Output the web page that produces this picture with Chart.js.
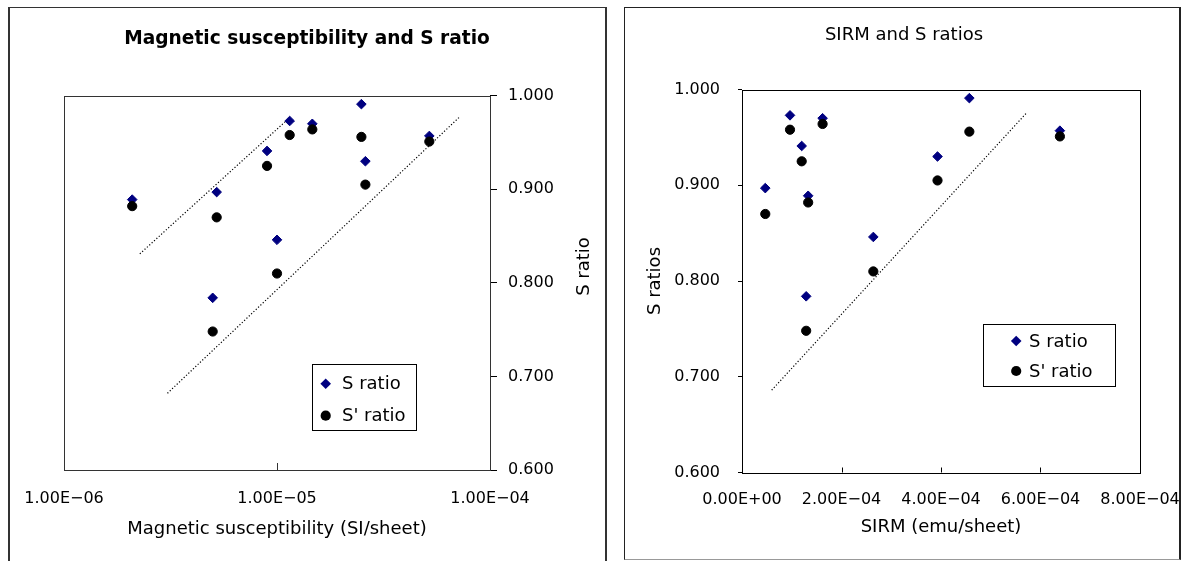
<!DOCTYPE html>
<html>
<head>
<meta charset="utf-8">
<script src="https://cdn.jsdelivr.net/npm/chart.js@4.4.1/dist/chart.umd.min.js"></script>
<style>
  html, body { margin: 0; padding: 0; background: #fff; }
  body { width: 1186px; height: 561px; position: relative; overflow: hidden; }
  .panel { position: absolute; box-sizing: border-box; border: 1px solid #333; }
  #panelLeft { left: 8px; top: 7px; width: 599px; height: 600px; border-width: 1px 2px 0 2px; }
  #panelRight { left: 624px; top: 7px; width: 557px; height: 553px; border-color: #222; border-width: 1px 2px 1px 1px; border-bottom-color: #999; }
  canvas { position: absolute; }
  #suscChart { left: 10px; top: 9px; }
  #sirmChart { left: 626px; top: 9px; }
</style>
</head>
<body>
<div class="panel" id="panelLeft"></div>
<div class="panel" id="panelRight"></div>
<canvas id="suscChart" width="594" height="552"></canvas>
<canvas id="sirmChart" width="556" height="549"></canvas>
<script>
// one entry per sample, same order in every array
const susceptibility = [2.09e-6, 5.21e-6, 8.98e-6, 1.147e-5, 1.465e-5, 2.49e-5, 2.60e-5, 5.19e-5, 1.0e-5, 4.99e-6]
const sirm = [1.33e-4, 4.68e-5, 1.20e-4, 9.65e-5, 1.62e-4, 4.57e-4, 3.93e-4, 6.39e-4, 2.64e-4, 1.29e-4]
const sRatio = [0.889, 0.897, 0.941, 0.973, 0.970, 0.991, 0.930, 0.957, 0.846, 0.784]
const sPrimeRatio = [0.882, 0.870, 0.925, 0.958, 0.964, 0.956, 0.905, 0.951, 0.810, 0.748]

// axis ticks
const suscTicks = [1e-6, 1e-5, 1e-4]
const sirmTicks = [0, 2e-4, 4e-4, 6e-4, 8e-4]
const ratioTicks = [0.6, 0.7, 0.8, 0.9, 1.0]

// dotted guide lines, [x, y] end points
const suscGuideUpper = [[2.27e-6, 0.831], [1.09e-5, 0.972]]
const suscGuideLower = [[3.06e-6, 0.682], [7.25e-5, 0.978]]
const sirmGuide = [[5.97e-5, 0.686], [5.71e-4, 0.975]]

Chart.defaults.font.family = "'DejaVu Sans', sans-serif"
Chart.defaults.color = '#000'

// 1.00E-05 style labels
function sci(v) {
  const [m, e] = Number(v).toExponential(2).split('e')
  const n = parseInt(e, 10)
  return m + 'E' + (n < 0 ? '\u2212' : '+') + String(Math.abs(n)).padStart(2, '0')
}

function pts(xs, ys) {
  return xs.map((x, i) => ({ x: x, y: ys[i] }))
}

function guide(pairs) {
  return {
    data: pairs.map(p => ({ x: p[0], y: p[1] })),
    showLine: true,
    pointRadius: 0,
    borderColor: '#000',
    borderWidth: 1.2,
    borderDash: [1.2, 2],
    xAxisID: 'x',
    yAxisID: 'y',
    order: 3
  }
}

function markers(xs) {
  return [
    {
      label: 'S ratio',
      data: pts(xs, sRatio),
      pointStyle: 'rectRot',
      pointRadius: 4.8,
      backgroundColor: '#000080',
      borderColor: '#000080',
      borderWidth: 1,
      xAxisID: 'x',
      yAxisID: 'y',
      order: 2
    },
    {
      label: "S' ratio",
      data: pts(xs, sPrimeRatio),
      pointStyle: 'circle',
      pointRadius: 4.6,
      backgroundColor: '#000',
      borderColor: '#000',
      borderWidth: 1,
      xAxisID: 'x',
      yAxisID: 'y',
      order: 1
    }
  ]
}

// empty axis used only to reserve room beside the plot
function gutter(side, w) {
  return {
    position: side,
    display: true,
    grid: { display: false, drawTicks: false },
    border: { display: false },
    ticks: { display: false },
    afterFit: s => { s.width = w }
  }
}

// plot frame + short tick marks pointing into the plot on x
const frame = {
  id: 'frame',
  beforeDatasetsDraw(chart, args, o) {
    const { ctx, chartArea: a } = chart
    ctx.save()
    ctx.strokeStyle = o.color || '#000'
    ctx.lineWidth = 1
    ctx.strokeRect(Math.round(a.left) + 0.5, Math.round(a.top) + 0.5,
      Math.round(a.right - a.left), Math.round(a.bottom - a.top))
    const xs = chart.scales.x
    ctx.beginPath()
    xs.ticks.forEach(t => {
      const px = Math.round(xs.getPixelForValue(t.value)) + 0.5
      if (px < a.left + 2 || px > a.right - 2) return
      ctx.moveTo(px, a.bottom)
      ctx.lineTo(px, a.bottom - o.innerTick)
    })
    ctx.stroke()
    ctx.restore()
  }
}

const boxLegend = {
  id: 'boxLegend',
  afterDraw(chart, args, o) {
    if (!o.box) return
    const ctx = chart.ctx
    const [x, y, w, h] = o.box
    ctx.save()
    ctx.fillStyle = '#fff'
    ctx.fillRect(x, y, w, h)
    ctx.strokeStyle = '#000'
    ctx.lineWidth = 1
    ctx.strokeRect(x + 0.5, y + 0.5, w, h)
    ctx.font = o.font
    ctx.textBaseline = 'middle'
    const items = chart.data.datasets.filter(d => d.label)
    items.forEach((d, i) => {
      const cy = o.firstY + i * o.rowGap
      const r = d.pointRadius + 0.5
      ctx.fillStyle = d.backgroundColor
      ctx.beginPath()
      if (d.pointStyle === 'rectRot') {
        ctx.moveTo(o.markerX, cy - r)
        ctx.lineTo(o.markerX + r, cy)
        ctx.lineTo(o.markerX, cy + r)
        ctx.lineTo(o.markerX - r, cy)
        ctx.closePath()
      } else {
        ctx.arc(o.markerX, cy, r, 0, Math.PI * 2)
      }
      ctx.fill()
      ctx.fillStyle = '#000'
      ctx.fillText(d.label, o.textX, cy + 1)
    })
    ctx.restore()
  }
}

// y title on the right side, reading bottom to top
const sideTitle = {
  id: 'sideTitle',
  afterDraw(chart, args, o) {
    if (!o.text) return
    const ctx = chart.ctx
    ctx.save()
    ctx.translate(o.x, o.y)
    ctx.rotate(-Math.PI / 2)
    ctx.font = o.font
    ctx.fillStyle = '#000'
    ctx.textAlign = 'center'
    ctx.textBaseline = 'middle'
    ctx.fillText(o.text, 0, 0)
    ctx.restore()
  }
}

const tickFont = { size: 16 }
const titleFont = { size: 18 }

// x axis box of fixed height; end labels may hang outside the plot
function fixX(h) {
  return s => {
    s.height = h
    s.paddingLeft = 0
    s.paddingRight = 0
  }
}

new Chart(document.getElementById('suscChart'), {
  type: 'scatter',
  data: {
    datasets: [...markers(susceptibility), guide(suscGuideUpper), guide(suscGuideLower)]
  },
  plugins: [frame, boxLegend, sideTitle],
  options: {
    responsive: false,
    animation: false,
    layout: { padding: 0 },
    plugins: {
      legend: { display: false },
      tooltip: { enabled: false },
      title: {
        display: true,
        text: 'Magnetic susceptibility and S ratio',
        font: { size: 18.6, weight: 'bold' },
        color: '#000',
        padding: { top: 19.2, bottom: 45.2 }
      },
      frame: { innerTick: 7, color: '#333' },
      boxLegend: { box: [302, 355, 104, 66], markerX: 315.7, textX: 332, firstY: 374.7, rowGap: 32, font: "18px 'DejaVu Sans', sans-serif" },
      sideTitle: { text: 'S ratio', x: 574, y: 257.5, font: "18px 'DejaVu Sans', sans-serif" }
    },
    scales: {
      x: {
        type: 'logarithmic',
        min: suscTicks[0],
        max: suscTicks[suscTicks.length - 1],
        afterBuildTicks: s => { s.ticks = suscTicks.map(v => ({ value: v })) },
        afterFit: fixX(91),
        grid: { display: false, drawTicks: false },
        border: { display: false },
        ticks: { font: tickFont, padding: 19.4, maxRotation: 0, autoSkip: false, callback: v => sci(v) },
        title: { display: true, text: 'Magnetic susceptibility (SI/sheet)', font: titleFont, padding: { top: 0, bottom: 20.7 } }
      },
      y: {
        position: 'right',
        min: 0.6,
        max: 1.0,
        afterBuildTicks: s => { s.ticks = ratioTicks.map(v => ({ value: v })) },
        afterFit: s => { s.width = 114 },
        grid: { drawOnChartArea: false, drawTicks: true, tickLength: 7, color: '#000' },
        border: { display: false },
        ticks: { font: tickFont, padding: 11, callback: v => Number(v).toFixed(3) }
      },
      gutter: gutter('left', 54)
    }
  }
})

new Chart(document.getElementById('sirmChart'), {
  type: 'scatter',
  data: {
    datasets: [...markers(sirm), guide(sirmGuide)]
  },
  plugins: [frame, boxLegend],
  options: {
    responsive: false,
    animation: false,
    layout: { padding: 0 },
    plugins: {
      legend: { display: false },
      tooltip: { enabled: false },
      title: {
        display: true,
        text: 'SIRM and S ratios',
        font: { size: 18, weight: 'normal' },
        color: '#000',
        padding: { top: 16, bottom: 42.9 }
      },
      frame: { innerTick: 5, color: '#000' },
      boxLegend: { box: [357, 315, 132, 62], markerX: 390.2, textX: 403, firstY: 332, rowGap: 30, font: "18px 'DejaVu Sans', sans-serif" }
    },
    scales: {
      x: {
        min: sirmTicks[0],
        max: sirmTicks[sirmTicks.length - 1],
        afterBuildTicks: s => { s.ticks = sirmTicks.map(v => ({ value: v })) },
        afterFit: fixX(85.5),
        grid: { display: false, drawTicks: false },
        border: { display: false },
        ticks: { font: tickFont, padding: 17.9, maxRotation: 0, autoSkip: false, callback: v => sci(v) },
        title: { display: true, text: 'SIRM (emu/sheet)', font: titleFont, padding: { top: 0, bottom: 19.5 } }
      },
      y: {
        position: 'left',
        min: 0.6,
        max: 1.0,
        afterBuildTicks: s => { s.ticks = ratioTicks.map(v => ({ value: v })) },
        afterFit: s => { s.width = 116 },
        grid: { drawOnChartArea: false, drawTicks: true, tickLength: 4, color: '#000' },
        border: { display: false },
        ticks: { font: tickFont, padding: 18, callback: v => Number(v).toFixed(3) },
        title: { display: true, text: 'S ratios', font: titleFont, padding: { top: 19, bottom: 0 } }
      },
      gutter: gutter('right', 42)
    }
  }
})
</script>
</body>
</html>
